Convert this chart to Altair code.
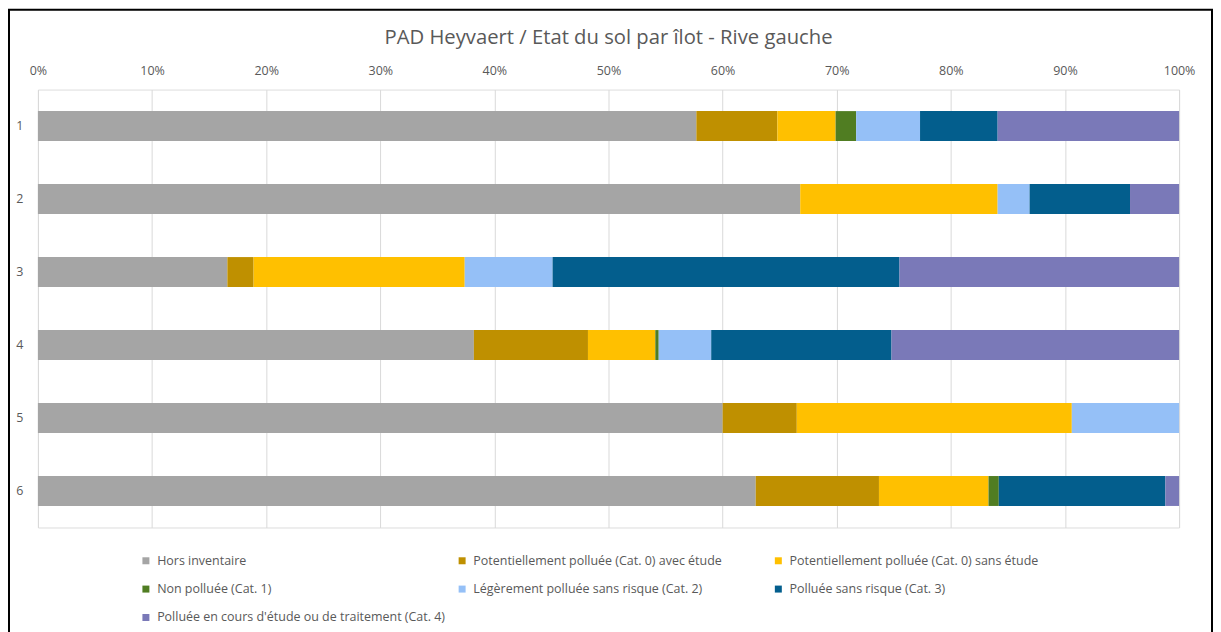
import altair as alt
import pandas as pd

ilots = ["1", "2", "3", "4", "5", "6"]
categories = [
    "Hors inventaire",
    "Potentiellement polluée (Cat. 0) avec étude",
    "Potentiellement polluée (Cat. 0) sans étude",
    "Non polluée (Cat. 1)",
    "Légèrement polluée sans risque (Cat. 2)",
    "Polluée sans risque (Cat. 3)",
    "Polluée en cours d'étude ou de traitement (Cat. 4)",
]
colors = ["#A5A5A5", "#BF9000", "#FFC000", "#507D22", "#95C0F7", "#035E8D", "#7A79B8"]

hors_inventaire = [57.7, 66.8, 16.6, 38.2, 60.0, 62.9]
avec_etude = [7.1, 0.0, 2.3, 10.0, 6.5, 10.8]
sans_etude = [5.1, 17.3, 18.5, 5.9, 24.1, 9.6]
non_polluee = [1.8, 0.0, 0.0, 0.3, 0.0, 0.9]
legerement = [5.6, 2.8, 7.7, 4.6, 9.4, 0.0]
sans_risque = [6.8, 8.8, 30.4, 15.8, 0.0, 14.6]
en_cours = [15.9, 4.3, 24.5, 25.2, 0.0, 1.2]

series = [hors_inventaire, avec_etude, sans_etude, non_polluee, legerement, sans_risque, en_cours]
tick_values = [0, 0.1, 0.2, 0.3, 0.4, 0.5, 0.6, 0.7, 0.8, 0.9, 1.0]

rows = []
for i, il in enumerate(ilots):
    for j, cat in enumerate(categories):
        v = series[j][i]
        if v > 0:
            rows.append({"ilot": il, "categorie": cat, "valeur": v, "rang": j})
df = pd.DataFrame(rows)

FONT = "Open Sans"
GREY = "#595959"

bars = alt.Chart(df).mark_bar().encode(
    x=alt.X(
        "valeur:Q",
        stack="normalize",
        scale=alt.Scale(domain=[0, 1], nice=False),
        axis=alt.Axis(
            orient="top", format=".0%", values=tick_values, grid=True,
            gridColor="#D9D9D9", domain=False, ticks=False, labelFlush=False,
            labelPadding=12, title=None, labelFont=FONT, labelFontSize=12.5,
            labelColor=GREY,
        ),
    ),
    y=alt.Y(
        "ilot:N",
        sort=ilots,
        scale=alt.Scale(paddingInner=0.59, paddingOuter=0.295),
        axis=alt.Axis(
            title=None, domain=False, ticks=False, labelPadding=15, labelAngle=0,
            labelFont=FONT, labelFontSize=12.5, labelColor=GREY,
        ),
    ),
    color=alt.Color(
        "categorie:N",
        scale=alt.Scale(domain=categories, range=colors),
        legend=alt.Legend(
            orient="none", legendX=102, legendY=466, columns=3, direction="horizontal",
            gridAlign="all", title=None, symbolType="square", symbolSize=49,
            symbolStrokeWidth=0, labelFont=FONT, labelFontSize=12.5, labelColor=GREY,
            rowPadding=15.5, columnPadding=10, labelOffset=5, labelLimit=400,
        ),
    ),
    order=alt.Order("rang:Q"),
)

frame = alt.Chart(pd.DataFrame({"a": [0]})).mark_rect(
    fill=None, stroke="#000000", strokeWidth=2
).encode(
    x=alt.value(-29), x2=alt.value(1177), y=alt.value(-80), y2=alt.value(560)
)

chart = alt.layer(frame, bars).properties(
    width=1144,
    height=439,
    autosize=alt.AutoSizeParams(type="none"),
    padding={"left": 30, "top": 81, "right": 34, "bottom": 104},
    title=alt.TitleParams(
        "PAD Heyvaert / Etat du sol par îlot - Rive gauche",
        font=FONT, fontSize=20.3, color=GREY, fontWeight="normal", offset=-40,
    ),
).configure_view(stroke=None).configure(background="white")

chart.save("out.html", embed_options={"renderer": "svg", "actions": False})
